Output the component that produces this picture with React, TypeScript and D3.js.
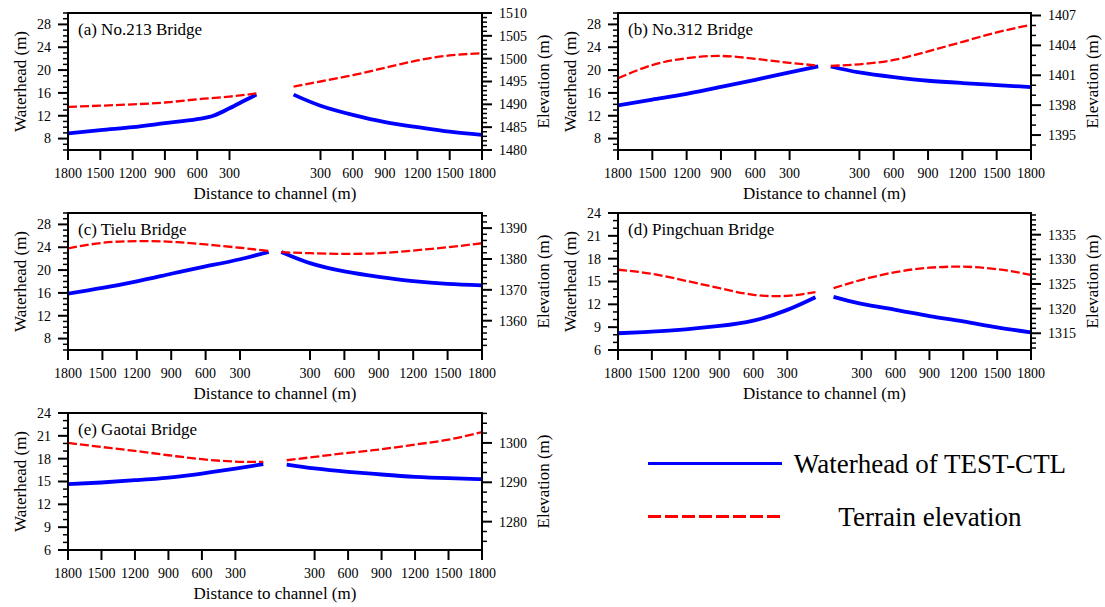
import React, { useEffect } from 'react';
import * as d3 from 'd3';

// ---------- data ----------
const DIST = [50, 300, 600, 900, 1200, 1500, 1800];
const X_TICKS = [300, 600, 900, 1200, 1500, 1800];

// (a) No.213 Bridge
const A_DIST_WATER_L = [50, 150, 300, 450, 600, 900, 1200, 1500, 1800];
const A_WATER_L = [15.7, 14.75, 13.3, 12.0, 11.4, 10.7, 10.0, 9.5, 8.9];
const A_WATER_R = [15.7, 13.76, 12.16, 10.9, 10.0, 9.2, 8.64];
const A_TERR_L = [1492.4, 1491.7, 1491.1, 1490.4, 1490.0, 1489.7, 1489.45];
const A_TERR_R = [1493.9, 1495.0, 1496.4, 1498.0, 1499.6, 1500.7, 1501.2];

// (b) No.312 Bridge
const B_WATER_L = [20.64, 19.6, 18.3, 17.04, 15.83, 14.84, 13.8];
const B_WATER_R = [20.63, 19.59, 18.77, 18.13, 17.73, 17.38, 17.03];
const B_TERR_L = [1401.97, 1402.25, 1402.65, 1402.94, 1402.71, 1402.02, 1400.7];
const B_TERR_R = [1401.94, 1402.1, 1402.54, 1403.4, 1404.35, 1405.3, 1406.06];

// (c) Tielu Bridge
const C_WATER_L = [23.2, 21.9, 20.64, 19.36, 18.03, 16.87, 15.88];
const C_WATER_R = [23.17, 21.22, 19.77, 18.82, 18.07, 17.58, 17.32];
const C_TERR_L = [1382.57, 1383.64, 1384.7, 1385.57, 1385.78, 1385.23, 1383.44];
const C_TERR_R = [1382.2, 1381.87, 1381.66, 1381.87, 1382.74, 1383.8, 1385.1];

// (d) Pingchuan Bridge
const D_WATER_L = [12.94, 11.27, 9.86, 9.16, 8.72, 8.41, 8.2];
const D_WATER_R = [12.98, 12.06, 11.27, 10.46, 9.75, 8.97, 8.32];
const D_TERR_L = [1323.35, 1322.6, 1322.8, 1324.15, 1325.65, 1327.06, 1327.89];
const D_TERR_R = [1324.15, 1325.85, 1327.4, 1328.3, 1328.5, 1328.0, 1326.86];

// (e) Gaotai Bridge
const E_WATER_L = [17.27, 16.7, 16.05, 15.52, 15.17, 14.87, 14.65];
const E_WATER_R = [17.22, 16.71, 16.27, 15.92, 15.62, 15.44, 15.31];
const E_TERR_L = [1295.19, 1295.26, 1295.86, 1296.87, 1297.97, 1298.97, 1300.0];
const E_TERR_R = [1295.6, 1296.46, 1297.47, 1298.4, 1299.58, 1300.84, 1302.78];

const TITLES = ['(a) No.213 Bridge', '(b) No.312 Bridge', '(c) Tielu Bridge', '(d) Pingchuan Bridge', '(e) Gaotai Bridge'];
const LEGEND_LABELS = ['Waterhead of TEST-CTL', 'Terrain elevation'];

const LEFT_TICKS_A = [8, 12, 16, 20, 24, 28];
const LEFT_TICKS_D = [6, 9, 12, 15, 18, 21, 24];

// ---------- layout ----------
const FONT = "'Liberation Serif', 'Times New Roman', serif";
const BLUE = '#0000ff';
const RED = '#ff0000';

type Series = { d: number[]; v: number[]; kinked?: boolean };
type Panel = {
  title: string;
  x0: number; y0: number; w: number; h: number;
  gap: number;
  leftDomain: [number, number]; leftTicks: number[]; leftMinor: number;
  rightDomain: [number, number]; rightTicks: number[]; rightMinor: number;
  waterL: Series; waterR: Series; terrL: Series; terrR: Series;
};

const panels: Panel[] = [
  {
    title: TITLES[0], x0: 68, y0: 13, w: 414, h: 137, gap: 245,
    leftDomain: [6, 30], leftTicks: LEFT_TICKS_A, leftMinor: 1,
    rightDomain: [1480, 1510], rightTicks: [1480, 1485, 1490, 1495, 1500, 1505, 1510], rightMinor: 1,
    waterL: { d: A_DIST_WATER_L, v: A_WATER_L, kinked: true }, waterR: { d: DIST, v: A_WATER_R },
    terrL: { d: DIST, v: A_TERR_L }, terrR: { d: DIST, v: A_TERR_R },
  },
  {
    title: TITLES[1], x0: 618, y0: 13, w: 413, h: 137, gap: 10,
    leftDomain: [6, 30], leftTicks: LEFT_TICKS_A, leftMinor: 1,
    rightDomain: [1393.5, 1407.25], rightTicks: [1395, 1398, 1401, 1404, 1407], rightMinor: 1,
    waterL: { d: DIST, v: B_WATER_L }, waterR: { d: DIST, v: B_WATER_R },
    terrL: { d: DIST, v: B_TERR_L }, terrR: { d: DIST, v: B_TERR_R },
  },
  {
    title: TITLES[2], x0: 68, y0: 213, w: 414, h: 137, gap: 10,
    leftDomain: [6, 30], leftTicks: LEFT_TICKS_A, leftMinor: 1,
    rightDomain: [1350.5, 1394.9], rightTicks: [1360, 1370, 1380, 1390], rightMinor: 2,
    waterL: { d: DIST, v: C_WATER_L }, waterR: { d: DIST, v: C_WATER_R },
    terrL: { d: DIST, v: C_TERR_L }, terrR: { d: DIST, v: C_TERR_R },
  },
  {
    title: TITLES[3], x0: 618, y0: 213, w: 413, h: 137, gap: 60,
    leftDomain: [6, 24], leftTicks: LEFT_TICKS_D, leftMinor: 1,
    rightDomain: [1311.6, 1339.4], rightTicks: [1315, 1320, 1325, 1330, 1335], rightMinor: 1,
    waterL: { d: DIST, v: D_WATER_L }, waterR: { d: DIST, v: D_WATER_R },
    terrL: { d: DIST, v: D_TERR_L }, terrR: { d: DIST, v: D_TERR_R },
  },
  {
    title: TITLES[4], x0: 68, y0: 413, w: 414, h: 137, gap: 110,
    leftDomain: [6, 24], leftTicks: LEFT_TICKS_D, leftMinor: 1,
    rightDomain: [1272.8, 1307.6], rightTicks: [1280, 1290, 1300], rightMinor: 2.5,
    waterL: { d: DIST, v: E_WATER_L }, waterR: { d: DIST, v: E_WATER_R },
    terrL: { d: DIST, v: E_TERR_L }, terrR: { d: DIST, v: E_TERR_R },
  },
];

function minorTicks(domain: [number, number], step: number, majors: number[]) {
  const lo = Math.ceil(domain[0] / step - 1e-9) * step;
  return d3.range(lo, domain[1] + 1e-9, step).filter(
    (t) => !majors.some((m) => Math.abs(m - t) < 1e-6)
  );
}

function PanelView({ p }: { p: Panel }) {
  const x = d3.scaleLinear().domain([0, 3600 + p.gap]).range([p.x0, p.x0 + p.w]);
  const yL = d3.scaleLinear().domain(p.leftDomain).range([p.y0 + p.h, p.y0]);
  const yR = d3.scaleLinear().domain(p.rightDomain).range([p.y0 + p.h, p.y0]);
  const posL = (d: number) => 1800 - d;
  const posR = (d: number) => 1800 + p.gap + d;

  const mk = (s: Series, pos: (d: number) => number, ys: d3.ScaleLinear<number, number>) => {
    const pts: [number, number][] = s.d.map((d, i) => [x(pos(d)), ys(s.v[i])]);
    pts.sort((a, b) => a[0] - b[0]);
    const curve = s.kinked ? d3.curveMonotoneX : d3.curveNatural;
    return d3.line().curve(curve)(pts) || '';
  };

  const x1 = p.x0 + p.w;
  const y1 = p.y0 + p.h;
  const leftMinor = minorTicks(p.leftDomain, p.leftMinor, p.leftTicks);
  const rightMinor = minorTicks(p.rightDomain, p.rightMinor, p.rightTicks);
  const cx = (p.x0 + x1) / 2;
  const cy = (p.y0 + y1) / 2;

  return (
    <g>
      <defs>
        <clipPath id={`clip-${p.x0}-${p.y0}`}>
          <rect x={p.x0} y={p.y0} width={p.w} height={p.h} />
        </clipPath>
      </defs>
      <g clipPath={`url(#clip-${p.x0}-${p.y0})`}>
        <path d={mk(p.waterL, posL, yL)} fill="none" stroke={BLUE} strokeWidth={3.8} />
        <path d={mk(p.waterR, posR, yL)} fill="none" stroke={BLUE} strokeWidth={3.8} />
        <path d={mk(p.terrL, posL, yR)} fill="none" stroke={RED} strokeWidth={2.3} strokeDasharray="9,3" />
        <path d={mk(p.terrR, posR, yR)} fill="none" stroke={RED} strokeWidth={2.3} strokeDasharray="9,3" />
      </g>
      <rect x={p.x0} y={p.y0} width={p.w} height={p.h} fill="none" stroke="#000" strokeWidth={2} />

      {/* left axis */}
      {p.leftTicks.map((t) => (
        <g key={`lt${t}`}>
          <line x1={p.x0 - 10} x2={p.x0} y1={yL(t)} y2={yL(t)} stroke="#000" strokeWidth={2} />
          <text x={p.x0 - 17} y={yL(t)} dy="0.35em" textAnchor="end" fontSize={14}>{t}</text>
        </g>
      ))}
      {leftMinor.map((t) => (
        <line key={`lm${t}`} x1={p.x0 - 5} x2={p.x0} y1={yL(t)} y2={yL(t)} stroke="#000" strokeWidth={1.5} />
      ))}

      {/* right axis */}
      {p.rightTicks.map((t) => (
        <g key={`rt${t}`}>
          <line x1={x1} x2={x1 + 10} y1={yR(t)} y2={yR(t)} stroke="#000" strokeWidth={2} />
          <text x={x1 + 17} y={yR(t)} dy="0.35em" textAnchor="start" fontSize={14}>{t}</text>
        </g>
      ))}
      {rightMinor.map((t) => (
        <line key={`rm${t}`} x1={x1} x2={x1 + 5} y1={yR(t)} y2={yR(t)} stroke="#000" strokeWidth={1.5} />
      ))}

      {/* bottom axis */}
      {X_TICKS.map((t) => (
        <g key={`xl${t}`}>
          <line x1={x(posL(t))} x2={x(posL(t))} y1={y1} y2={y1 + 10} stroke="#000" strokeWidth={2} />
          <text x={x(posL(t))} y={y1 + 28} textAnchor="middle" fontSize={14}>{t}</text>
        </g>
      ))}
      {X_TICKS.map((t) => (
        <g key={`xr${t}`}>
          <line x1={x(posR(t))} x2={x(posR(t))} y1={y1} y2={y1 + 10} stroke="#000" strokeWidth={2} />
          <text x={x(posR(t))} y={y1 + 28} textAnchor="middle" fontSize={14}>{t}</text>
        </g>
      ))}

      <text x={p.x0 + 10} y={p.y0 + 22} fontSize={17}>{p.title}</text>
      <text x={cx} y={y1 + 49} textAnchor="middle" fontSize={17}>Distance to channel (m)</text>
      <text transform={`translate(${p.x0 - 42},${cy}) rotate(-90)`} textAnchor="middle" fontSize={17}>Waterhead (m)</text>
      <text transform={`translate(${x1 + 67},${cy}) rotate(-90)`} textAnchor="middle" fontSize={17}>Elevation (m)</text>
    </g>
  );
}

export default function App() {
  useEffect(() => {
    document.body.style.margin = '0';
  }, []);
  return (
    <svg
      width={1105}
      height={607}
      style={{ position: 'absolute', left: 0, top: 0, background: '#fff' }}
      fontFamily={FONT}
    >
      <rect x={0} y={0} width={1105} height={607} fill="#fff" />
      {panels.map((p) => (
        <PanelView key={p.title} p={p} />
      ))}
      {/* legend */}
      <line x1={648} x2={782} y1={463.5} y2={463.5} stroke={BLUE} strokeWidth={3} />
      <text x={930} y={473} textAnchor="middle" fontSize={27}>{LEGEND_LABELS[0]}</text>
      <line x1={648} x2={782} y1={516.5} y2={516.5} stroke={RED} strokeWidth={3} strokeDasharray="13,4" />
      <text x={930} y={526} textAnchor="middle" fontSize={27}>{LEGEND_LABELS[1]}</text>
    </svg>
  );
}
